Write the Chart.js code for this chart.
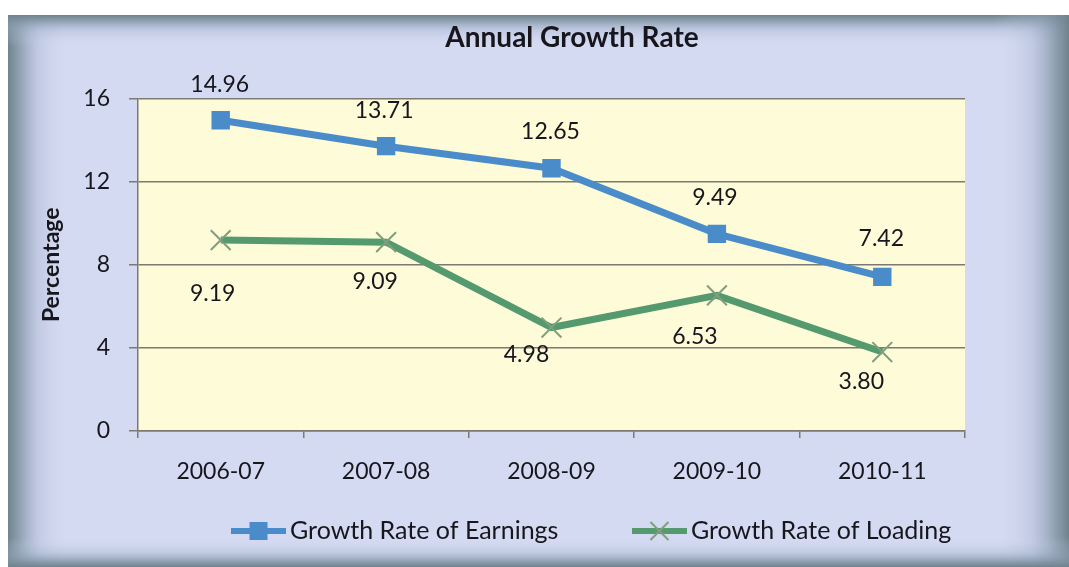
<!DOCTYPE html>
<html>
<head>
<meta charset="utf-8">
<title>Annual Growth Rate</title>
<script src="https://cdn.jsdelivr.net/npm/chart.js@4.4.1/dist/chart.umd.min.js"></script>
<style>
  html, body { margin: 0; padding: 0; background: #ffffff; }
  #wrap { position: absolute; left: 8px; top: 15px; width: 1061px; height: 552px; }
</style>
</head>
<body>
<div id="wrap"><canvas id="growth" width="1061" height="552"></canvas></div>
<script>
// years on the x axis
const years = ['2006-07', '2007-08', '2008-09', '2009-10', '2010-11'];

// growth rates in percent
const earnings = [14.96, 13.71, 12.65, 9.49, 7.42];
const loading = [9.19, 9.09, 4.98, 6.53, 3.80];

// y axis ticks
const yTicks = [0, 4, 8, 12, 16];

// where each value label sits relative to its point (px)
const earningsLabelShift = [[-1, -36], [-2, -36], [-1, -37], [-2, -36], [-1, -38]];
const loadingLabelShift = [[-8, 54], [-11, 39], [-25, 27], [-22, 41], [-21, 30]];

const BLUE = '#4a8bc9';
const GREEN = '#559a6e';
const CROSS = '#7f9e7d';
const INK = '#16161c';
const GRID = '#7d7872';
const FS = 23;
const LEGEND_FS = 25;

Chart.defaults.font.family = 'Lato, "Open Sans", sans-serif';
Chart.defaults.font.size = FS;
Chart.defaults.color = INK;

// little line + marker pictures for the legend
function legendIcon(kind, color) {
  const c = document.createElement('canvas');
  c.width = 55;
  c.height = 22;
  const g = c.getContext('2d');
  g.strokeStyle = color;
  g.lineWidth = 6;
  g.beginPath();
  g.moveTo(0, 11);
  g.lineTo(55, 11);
  g.stroke();
  if (kind === 'rect') {
    g.fillStyle = color;
    g.fillRect(18.5, 2, 18, 18);
  } else {
    g.strokeStyle = CROSS;
    g.lineWidth = 2;
    g.beginPath();
    g.moveTo(18.5, 2); g.lineTo(36.5, 20);
    g.moveTo(36.5, 2); g.lineTo(18.5, 20);
    g.stroke();
  }
  return c;
}
const icons = [legendIcon('rect', BLUE), legendIcon('cross', GREEN)];

// frame with darker bevelled edges and the yellow plot area
const backdrop = {
  id: 'backdrop',
  beforeDraw(chart) {
    const ctx = chart.ctx;
    const w = chart.width, h = chart.height;
    ctx.save();
    ctx.fillStyle = '#d4daf2';
    ctx.fillRect(0, 0, w, h);

    const edge = (x0, y0, x1, y1, rx, ry, rw, rh) => {
      const gr = ctx.createLinearGradient(x0, y0, x1, y1);
      gr.addColorStop(0, 'rgba(112,130,140,1)');
      gr.addColorStop(0.18, 'rgba(125,145,160,0.8)');
      gr.addColorStop(0.5, 'rgba(160,175,200,0.35)');
      gr.addColorStop(1, 'rgba(212,218,242,0)');
      ctx.fillStyle = gr;
      ctx.fillRect(rx, ry, rw, rh);
    };
    edge(0, 0, 62, 0, 0, 0, 62, h);
    edge(0, 0, 0, 32, 0, 0, w, 32);
    edge(w, 0, w - 75, 0, w - 75, 0, 75, h);
    edge(0, h, 0, h - 30, 0, h - 30, w, 30);

    const a = chart.chartArea;
    ctx.fillStyle = '#fdfbd8';
    ctx.fillRect(a.left, a.top, a.right - a.left, a.bottom - a.top);
    ctx.restore();
  },
  afterLayout(chart) {
    // title and legend are centred off the plot's middle
    const t = chart.titleBlock;
    t.left = 264; t.right = 864;
    const lg = chart.legend;
    const p = lg.options.labels.padding;
    lg.left = 231.5 - p; lg.right = chart.width;
    lg.top = 516 - p - LEGEND_FS / 2; lg.bottom = chart.height;
  }
};

// value labels next to every point
const valueLabels = {
  id: 'valueLabels',
  afterDatasetsDraw(chart) {
    const ctx = chart.ctx;
    const shifts = [earningsLabelShift, loadingLabelShift];
    ctx.save();
    ctx.font = FS + 'px Lato';
    ctx.fillStyle = INK;
    ctx.textAlign = 'center';
    ctx.textBaseline = 'middle';
    chart.data.datasets.forEach((ds, d) => {
      chart.getDatasetMeta(d).data.forEach((pt, i) => {
        const s = shifts[d][i];
        ctx.fillText(ds.data[i].toFixed(2), pt.x + s[0], pt.y + s[1]);
      });
    });
    ctx.restore();
  }
};

const config = {
  type: 'line',
  data: {
    labels: years,
    datasets: [{
      label: 'Growth Rate of Earnings',
      data: earnings,
      borderColor: BLUE,
      backgroundColor: BLUE,
      borderWidth: 7,
      pointStyle: 'rect',
      pointRadius: 13,
      pointBackgroundColor: BLUE,
      pointBorderColor: BLUE,
      pointBorderWidth: 0,
      tension: 0
    }, {
      label: 'Growth Rate of Loading',
      data: loading,
      borderColor: GREEN,
      backgroundColor: GREEN,
      borderWidth: 7,
      pointStyle: 'crossRot',
      pointRadius: 14,
      pointBorderColor: CROSS,
      pointBorderWidth: 2,
      tension: 0
    }]
  },
  options: {
    responsive: false,
    devicePixelRatio: 1,
    animation: false,
    events: [],
    layout: { padding: { left: 0, right: 104, top: 0, bottom: 0 } },
    scales: {
      x: {
        offset: true,
        grid: { offset: true, drawOnChartArea: false, drawTicks: true, tickLength: 7, color: GRID, lineWidth: 1.5 },
        border: { color: GRID, width: 1.5 },
        ticks: { padding: 20, color: INK, font: { size: FS } },
        afterFit(scale) { scale.height = 86; }
      },
      y: {
        min: yTicks[0],
        max: yTicks[yTicks.length - 1],
        afterBuildTicks(scale) { scale.ticks = yTicks.map(v => ({ value: v })); },
        grid: { color: GRID, lineWidth: 1.5, tickLength: 9 },
        border: { color: GRID, width: 1.5 },
        ticks: { padding: 19, color: INK, font: { size: FS } },
        title: {
          display: true,
          text: 'Percentage',
          color: INK,
          font: { size: FS, weight: 'bold' },
          padding: { top: 30, bottom: 0 }
        },
        afterFit(scale) { scale.width = 130; }
      }
    },
    plugins: {
      title: {
        display: true,
        text: 'Annual Growth Rate',
        color: INK,
        font: { size: 28, weight: 'bold' },
        padding: { top: 6, bottom: 44 }
      },
      legend: {
        position: 'bottom',
        align: 'start',
        maxHeight: 50,
        labels: {
          usePointStyle: true,
          pointStyleWidth: 38,
          padding: 82,
          color: INK,
          font: { size: LEGEND_FS },
          generateLabels(chart) {
            const items = Chart.defaults.plugins.legend.labels.generateLabels(chart);
            items.forEach((it, i) => { it.pointStyle = icons[i]; });
            return items;
          }
        }
      },
      tooltip: { enabled: false }
    }
  },
  plugins: [backdrop, valueLabels]
};

const chart = new Chart(document.getElementById('growth').getContext('2d'), config);
</script>
</body>
</html>
